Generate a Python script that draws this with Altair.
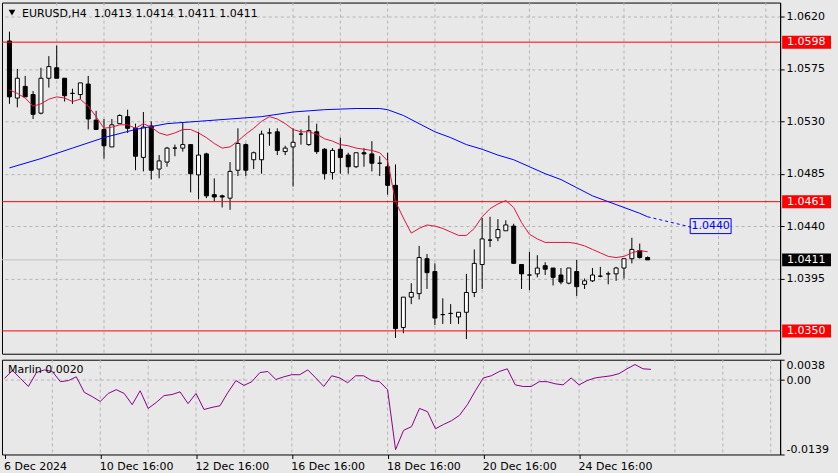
import altair as alt
import pandas as pd

# ---------------- data ----------------
label_bars = [0, 12, 24, 36, 48, 60, 72]
time_labels = ["6 Dec 2024", "10 Dec 16:00", "12 Dec 16:00", "16 Dec 16:00",
               "18 Dec 16:00", "20 Dec 16:00", "24 Dec 16:00"]

opens = [1.0599, 1.0550, 1.0560, 1.0553, 1.0537, 1.0567, 1.0576, 1.0567, 1.0554, 1.0553,
         1.0562, 1.0531, 1.0523, 1.0508, 1.0528, 1.0534, 1.0524, 1.0499, 1.0526, 1.0489,
         1.0495, 1.0507, 1.0507, 1.0510, 1.0484, 1.0502, 1.0467, 1.0466, 1.0464, 1.0488,
         1.0510, 1.0497, 1.0497, 1.0520, 1.0521, 1.0504, 1.0508, 1.0519, 1.0510, 1.0521,
         1.0506, 1.0486, 1.0506, 1.0501, 1.0491, 1.0503, 1.0502, 1.0494, 1.0491, 1.0475,
         1.0353, 1.0379, 1.0382, 1.0412, 1.0401, 1.0364, 1.0365, 1.0362, 1.0366, 1.0383,
         1.0407, 1.0428, 1.0430, 1.0436, 1.0440, 1.0407, 1.0398, 1.0399, 1.0406, 1.0404,
         1.0398, 1.0391, 1.0401, 1.0390, 1.0393, 1.0397, 1.0399, 1.0399, 1.0404, 1.0412,
         1.0419, 1.0413]
highs = [1.0607, 1.0575, 1.0569, 1.0556, 1.0576, 1.0586, 1.0595, 1.0567, 1.0558, 1.0563,
         1.0569, 1.0539, 1.0532, 1.0532, 1.0536, 1.0540, 1.0528, 1.0538, 1.0530, 1.0501,
         1.0508, 1.0510, 1.0529, 1.0510, 1.0521, 1.0503, 1.0481, 1.0467, 1.0495, 1.0524,
         1.0511, 1.0504, 1.0522, 1.0524, 1.0524, 1.0509, 1.0524, 1.0523, 1.0535, 1.0528,
         1.0507, 1.0507, 1.0516, 1.0503, 1.0503, 1.0507, 1.0513, 1.0500, 1.0503, 1.0493,
         1.0379, 1.0391, 1.0423, 1.0416, 1.0408, 1.0378, 1.0373, 1.0366, 1.0399, 1.0420,
         1.0447, 1.0448, 1.0446, 1.0445, 1.0442, 1.0407, 1.0418, 1.0415, 1.0409, 1.0404,
         1.0404, 1.0404, 1.0411, 1.0395, 1.0404, 1.0405, 1.0401, 1.0405, 1.0412, 1.0430,
         1.0425, 1.0414]
lows = [1.0545, 1.0542, 1.0551, 1.0532, 1.0536, 1.0559, 1.0567, 1.0547, 1.0545, 1.0549,
        1.0523, 1.0523, 1.0498, 1.0508, 1.0528, 1.0520, 1.0488, 1.0487, 1.0480, 1.0481,
        1.0491, 1.0500, 1.0504, 1.0469, 1.0463, 1.0464, 1.0461, 1.0456, 1.0454, 1.0483,
        1.0483, 1.0489, 1.0485, 1.0509, 1.0501, 1.0501, 1.0474, 1.0510, 1.0509, 1.0502,
        1.0480, 1.0480, 1.0485, 1.0485, 1.0490, 1.0491, 1.0487, 1.0483, 1.0467, 1.0344,
        1.0348, 1.0373, 1.0377, 1.0386, 1.0355, 1.0356, 1.0356, 1.0356, 1.0343, 1.0379,
        1.0386, 1.0422, 1.0427, 1.0436, 1.0408, 1.0386, 1.0385, 1.0396, 1.0398, 1.0389,
        1.0390, 1.0390, 1.0380, 1.0386, 1.0392, 1.0396, 1.0390, 1.0393, 1.0395, 1.0408,
        1.0412, 1.0411]
closes = [1.0551, 1.0567, 1.0551, 1.0536, 1.0567, 1.0577, 1.0567, 1.0552, 1.0554, 1.0563,
          1.0532, 1.0523, 1.0509, 1.0527, 1.0535, 1.0524, 1.0500, 1.0525, 1.0488, 1.0496,
          1.0507, 1.0507, 1.0510, 1.0485, 1.0501, 1.0466, 1.0465, 1.0465, 1.0487, 1.0511,
          1.0488, 1.0503, 1.0519, 1.0520, 1.0505, 1.0507, 1.0512, 1.0519, 1.0522, 1.0504,
          1.0485, 1.0505, 1.0499, 1.0491, 1.0503, 1.0502, 1.0494, 1.0494, 1.0475, 1.0352,
          1.0379, 1.0383, 1.0413, 1.0400, 1.0361, 1.0364, 1.0365, 1.0366, 1.0383, 1.0408,
          1.0429, 1.0428, 1.0437, 1.0441, 1.0408, 1.0399, 1.0398, 1.0404, 1.0403, 1.0396,
          1.0392, 1.0404, 1.0388, 1.0393, 1.0398, 1.0397, 1.0399, 1.0404, 1.0412, 1.0420,
          1.0413, 1.0411]

red_ma = [1.0557, 1.0554, 1.0550, 1.0543, 1.0545, 1.0549, 1.0551, 1.0550, 1.0547, 1.0549,
          1.0543, 1.0534, 1.0524, 1.0525, 1.0527, 1.0527, 1.0524, 1.0528, 1.0525, 1.0520,
          1.0518, 1.0520, 1.0523, 1.0523, 1.0520, 1.0516, 1.0511, 1.0507, 1.0508, 1.0513,
          1.0519, 1.0524, 1.0530, 1.0534, 1.0532, 1.0528, 1.0523, 1.0521, 1.0521, 1.0519,
          1.0515, 1.0513, 1.0510, 1.0509, 1.0507, 1.0506, 1.0505, 1.0503, 1.0496, 1.0461,
          1.0447, 1.0434, 1.0438, 1.0441, 1.0440, 1.0438, 1.0435, 1.0432, 1.0432, 1.0438,
          1.0448, 1.0455, 1.0459, 1.0462, 1.0456, 1.0443, 1.0433, 1.0429, 1.0426, 1.0426,
          1.0426, 1.0426, 1.0425, 1.0423, 1.0420, 1.0417, 1.0414, 1.0413, 1.0414, 1.0417,
          1.0419, 1.0418]

blue_bars = [0, 4, 8, 12, 16, 20, 24, 28, 32, 36, 40, 44, 47, 48, 50, 52, 54, 56, 58,
             60, 62, 64, 66, 68, 70, 72, 74, 76, 78, 80, 81]
blue_ma = [1.0490, 1.0498, 1.0507, 1.0516, 1.0523, 1.0528, 1.0530, 1.0532, 1.0534, 1.0538,
           1.0540, 1.0541, 1.0541, 1.0540, 1.0535, 1.0528, 1.0521, 1.0516, 1.0510,
           1.0506, 1.0501, 1.0497, 1.0491, 1.0485, 1.0480, 1.0473, 1.0466, 1.0461, 1.0456,
           1.0451, 1.0448]
blue_proj_bars = [81, 86, 87]
blue_proj = [1.0448, 1.0440, 1.0438]
blue_label_bar = 89
blue_label_value = 1.0440

marlin = [0.0003, 0.0018, 0.0003, -0.0012, 0.0014, 0.0019, 0.0016, -0.0003, -0.0001, 0.0006,
          -0.0023, -0.0031, -0.0040, -0.0025, -0.0018, -0.0025, -0.0046, -0.0020, -0.0053, -0.0042,
          -0.0029, -0.0027, -0.0022, -0.0044, -0.0025, -0.0055, -0.0051, -0.0048, -0.0023, -0.0001,
          -0.0010, -0.0003, 0.0014, 0.0016, 0.0001, 0.0006, 0.0010, 0.0010, 0.0019, 0.0004,
          -0.0012, 0.0008, 0.0004, -0.0005, 0.0008, 0.0008, -0.0001, -0.0003, -0.0018, -0.0130,
          -0.0094, -0.0087, -0.0053, -0.0059, -0.0091, -0.0083, -0.0076, -0.0066, -0.0046, -0.0020,
          0.0004, 0.0008, 0.0016, 0.0021, -0.0009, -0.0012, -0.0012, -0.0003, -0.0003, -0.0007,
          -0.0009, 0.0004, -0.0009, -0.0001, 0.0004, 0.0006, 0.0008, 0.0012, 0.0021, 0.0029,
          0.0021, 0.0020]

levels = [1.0598, 1.0461, 1.0350]
last_price = 1.0411
price_ticks = [1.0620, 1.0575, 1.0530, 1.0485, 1.0440, 1.0395]
marlin_ticks = [0.0038, 0.0, -0.0139]
grid_bars = [6, 12, 18, 24, 30, 36, 42, 48, 54, 60, 66, 72, 78, 84, 90, 96]
title_text = "EURUSD,H4\u00a0\u00a01.0413 1.0414 1.0411 1.0411"
marlin_text = "Marlin 0.0020"

# ---------------- tables ----------------
n = len(opens)
candles = pd.DataFrame({"i": list(range(n)), "o": opens, "h": highs, "l": lows, "c": closes})
red_df = pd.DataFrame({"i": list(range(n)), "p": red_ma})
blue_df = pd.DataFrame({"i": blue_bars, "p": blue_ma})
proj_df = pd.DataFrame({"i": blue_proj_bars, "p": blue_proj})
lvl_df = pd.DataFrame({"p": levels})
last_df = pd.DataFrame({"p": [last_price]})
grid_df = pd.DataFrame({"i": grid_bars})
blabel_df = pd.DataFrame({"i": [blue_label_bar], "p": [blue_label_value]})
marlin_df = pd.DataFrame({"i": list(range(n)), "m": marlin})
title_df = pd.DataFrame({"t": [title_text]})
mtext_df = pd.DataFrame({"t": [marlin_text]})
zero_df = pd.DataFrame({"m": [0.0]})

FONT = "DejaVu Sans"
GRID = "#b4b4b4"
W = 780

xs = alt.Scale(domain=[-0.3125, 97.1875], nice=False, zero=False)
ys = alt.Scale(domain=[1.03304, 1.06320], nice=False, zero=False)
ms = alt.Scale(domain=[-0.0139, 0.0038], nice=False, zero=False)

y_axis = alt.Axis(orient="right", values=price_ticks, format=".4f", title=None,
                  grid=True, gridColor=GRID, gridDash=[3, 3], tickSize=4,
                  tickColor="black", domainColor="black", labelPadding=2)

X = alt.X("i:Q", scale=xs, axis=None)


def Yf(field):
    return alt.Y(field, type="quantitative", scale=ys, axis=y_axis)


Y = Yf("p")

vgrid = alt.Chart(grid_df).mark_rule(color=GRID, strokeDash=[3, 3], strokeWidth=1).encode(x=X)

wicks = alt.Chart(candles).mark_rule(color="black", strokeWidth=1).encode(
    x=X, y=Yf("l"), y2="h:Q")
bodies = alt.Chart(candles).mark_bar(size=4, stroke="black", strokeWidth=1,
                                     orient="vertical").encode(
    x=X, y=Yf("o"), y2="c:Q",
    fill=alt.condition("datum.c >= datum.o", alt.value("white"), alt.value("black")))

lvl_lines = alt.Chart(lvl_df).mark_rule(color="#ff0000", strokeWidth=1).encode(y=Y)
last_line = alt.Chart(last_df).mark_rule(color="#c0c0c0", strokeWidth=1).encode(y=Y)

blue_line = alt.Chart(blue_df).mark_line(color="#0000ff", strokeWidth=1).encode(x=X, y=Y)
blue_dash = alt.Chart(proj_df).mark_line(color="#0000ff", strokeWidth=1,
                                         strokeDash=[3, 3]).encode(x=X, y=Y)
red_line = alt.Chart(red_df).mark_line(color="#e0143c", strokeWidth=1).encode(x=X, y=Y)

box_path = "M-1,-0.366L1,-0.366L1,0.366L-1,0.366Z"
blue_box = alt.Chart(blabel_df).mark_point(shape=box_path, size=1681, filled=False,
                                           stroke="#0000ff", strokeWidth=1,
                                           opacity=1).encode(x=X, y=Y)
blue_txt = alt.Chart(blabel_df).mark_text(color="#0000ff", font=FONT, fontSize=11,
                                          align="center", baseline="middle").encode(
    x=X, y=Y, text=alt.Text("p:Q", format=".4f"))

lvl_box = alt.Chart(lvl_df).mark_rule(color="#ff0000", strokeWidth=13).encode(
    x=alt.value(782), x2=alt.value(831), y=Y)
lvl_txt = alt.Chart(lvl_df).mark_text(color="white", font=FONT, fontSize=11,
                                      align="left", baseline="middle").encode(
    x=alt.value(787), y=Y, text=alt.Text("p:Q", format=".4f"))
last_box = alt.Chart(last_df).mark_rule(color="black", strokeWidth=13).encode(
    x=alt.value(782), x2=alt.value(831), y=Y)
last_txt = alt.Chart(last_df).mark_text(color="white", font=FONT, fontSize=11,
                                        align="left", baseline="middle").encode(
    x=alt.value(787), y=Y, text=alt.Text("p:Q", format=".4f"))

tri = alt.Chart(title_df).mark_point(shape="triangle-down", filled=True, color="black",
                                     size=45, opacity=1).encode(
    x=alt.value(10), y=alt.value(10))
title = alt.Chart(title_df).mark_text(color="black", font=FONT, fontSize=11,
                                      align="left", baseline="middle").encode(
    x=alt.value(20), y=alt.value(11), text="t:N")

main = alt.layer(vgrid, last_line, wicks, bodies, lvl_lines, blue_line, blue_dash,
                 red_line, blue_box, blue_txt, lvl_box, lvl_txt, last_box, last_txt,
                 tri, title).properties(width=W, height=352)

# ---------------- lower panel ----------------
expr = " : ".join(f"datum.value == {b} ? '{t}'" for b, t in zip(label_bars, time_labels)) + " : ''"
x_axis = alt.Axis(values=label_bars, labelExpr=expr, title=None, grid=False, domain=False,
                  tickSize=4, tickColor="black", labelAlign="left", labelPadding=2,
                  labelOffset=-1, labelFlush=False, labelOverlap=False)
m_axis = alt.Axis(orient="right", values=marlin_ticks, title=None, grid=False,
                  labelExpr="datum.value == 0 ? '0.00' : (datum.value < 0 ? '-' + format(-datum.value, '.4f') : format(datum.value, '.4f'))",
                  tickSize=4, tickColor="black", domainColor="black", labelPadding=2,
                  labelFlush=True, labelFlushOffset=0, labelOverlap=False)

XL = alt.X("i:Q", scale=xs, axis=x_axis)
YM = alt.Y("m:Q", scale=ms, axis=m_axis)

vgrid2 = alt.Chart(grid_df).mark_rule(color=GRID, strokeDash=[3, 3], strokeWidth=1).encode(x=XL)
zero_line = alt.Chart(zero_df).mark_rule(color=GRID, strokeDash=[3, 3], strokeWidth=1).encode(y=YM)
mline = alt.Chart(marlin_df).mark_line(color="#8b008b", strokeWidth=1).encode(x=XL, y=YM)
mtext = alt.Chart(mtext_df).mark_text(color="black", font=FONT, fontSize=11,
                                      align="left", baseline="middle").encode(
    x=alt.value(6), y=alt.value(10), text="t:N")

lower = alt.layer(vgrid2, zero_line, mline, mtext).properties(width=W, height=95)

chart = alt.vconcat(main, lower, spacing=4).properties(
    padding={"left": 1, "top": 1, "right": 0, "bottom": 0},
    background="#e8e8e8",
).configure_view(stroke="black", strokeWidth=1).configure_axis(
    labelFont=FONT, labelFontSize=11, labelColor="black")

chart.save("out.html", embed_options={"renderer": "svg", "actions": False})
